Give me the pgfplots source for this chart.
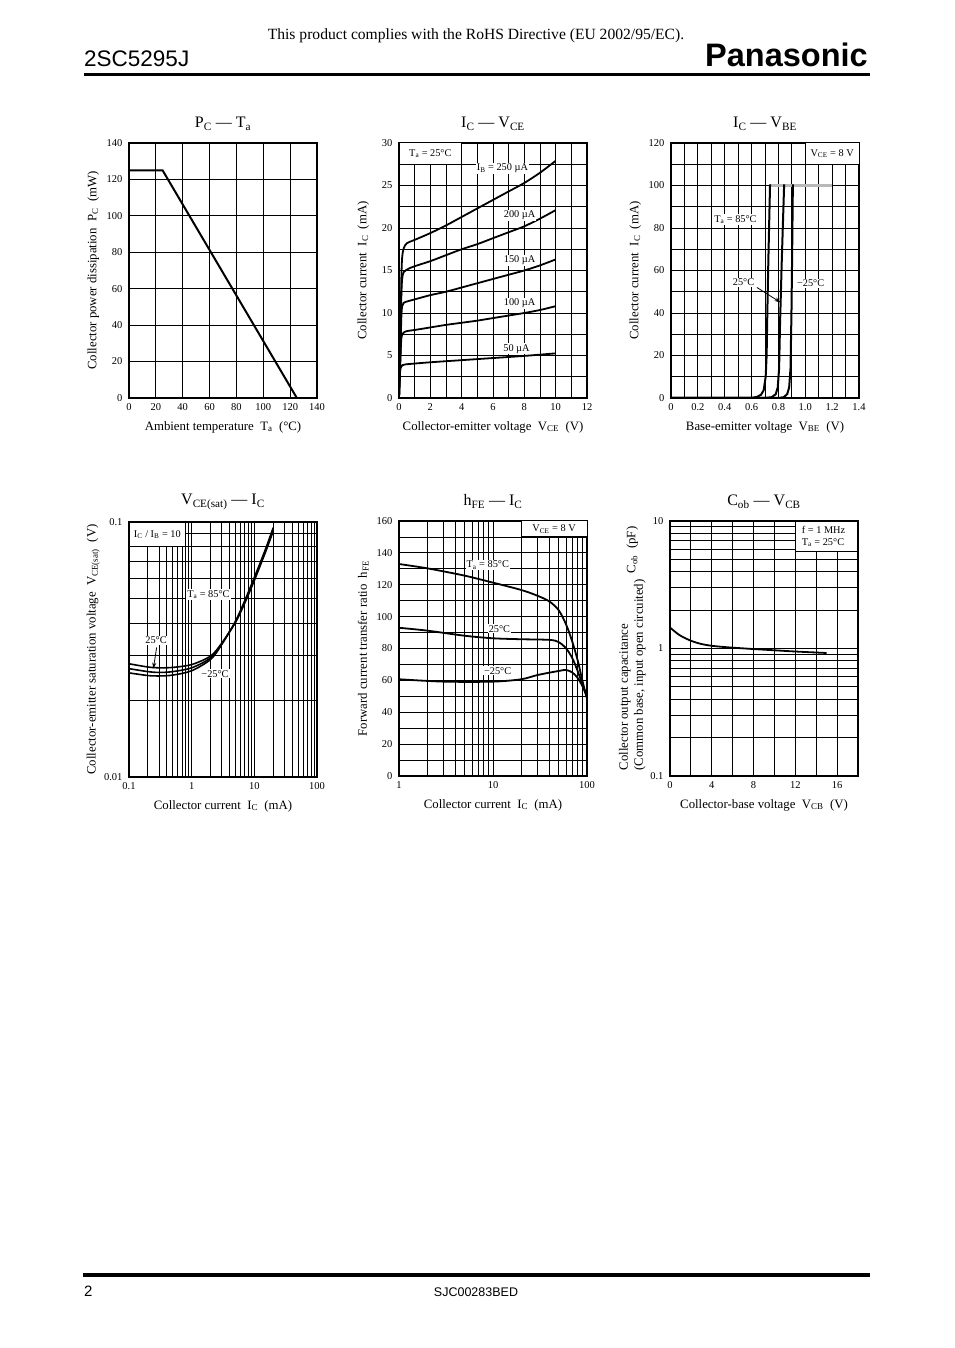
\documentclass[border=0pt]{standalone}
\usepackage{fontspec}
\setmainfont{Liberation Serif}
\newfontfamily\helv{Liberation Sans}
\usepackage{pgfplots}
\pgfplotsset{compat=1.18}
\usetikzlibrary{arrows.meta}
\newcommand\tk{\fontsize{10.5}{11}\selectfont}
\newcommand\lb{\fontsize{12.8}{15}\selectfont}
\newcommand\tl{\fontsize{16}{18}\selectfont}
\newcommand\sm{\fontsize{10.3}{12}\selectfont}
\newcommand\sub[1]{\textsubscript{#1}}
\tikzset{lbl/.style={fill=white,inner sep=1pt,font=\sm}}
\pgfplotsset{
 ds/.style={scale only axis, width=188pt, height=255pt, anchor=north west,
  axis line style={line width=1.2pt},
  grid=both,
  major grid style={line width=0.8pt,black},
  minor grid style={line width=0.8pt,black},
  major tick length=0pt, minor tick length=0pt,
  tick label style={font=\tk},
  xticklabel style={yshift=-2pt},
  yticklabel style={xshift=-3pt},
  label style={font=\lb},
  title style={font=\tl, yshift=3pt},
  xlabel style={at={(axis description cs:0.5,-0.114)},anchor=center},
  ylabel style={at={(axis description cs:-0.19,0.5)},anchor=center},
  cycle list={{black,mark=none}},
  every axis plot/.append style={line width=1.8pt,black,mark=none},
 }
}
\begin{document}
\begin{tikzpicture}
\begin{scope}[x=1pt,y=1pt]
\fill[white] (0,0) rectangle (954,1348);
\path[use as bounding box] (0,0) rectangle (954,1348);
\node[anchor=base, inner sep=0, font=\fontsize{15.6}{17}\selectfont] at (476,1308) {This product complies with the RoHS Directive (EU 2002/95/EC).};
\node[anchor=base west, inner sep=0, font=\helv\fontsize{22.5}{24}\selectfont] at (84,1281) {2SC5295J};
\node[anchor=base east, inner sep=0, font=\helv\bfseries\fontsize{32.5}{34}\selectfont] at (868,1281) {Panasonic};
\draw[line width=3pt] (84,1273) -- (870,1273);
\draw[line width=3.5pt] (83,73) -- (870,73);
\node[anchor=base west, inner sep=0, font=\helv\fontsize{15}{17}\selectfont] at (84,51) {2};
\node[anchor=base, inner sep=0, font=\helv\fontsize{12.5}{14}\selectfont] at (476,51) {SJC00283BED};
\end{scope}

% ---------- PC - Ta
\begin{axis}[ds, at={(129pt,1205pt)}, xmin=0,xmax=140,ymin=0,ymax=140,
 xtick={0,20,40,60,80,100,120,140}, xticklabels={0,20,40,60,80,100,120,140},
 ytick={0,20,40,60,80,100,120,140}, yticklabels={0,20,40,60,80,100,120,140},
 title={P\sub{C} — T\sub{a}},
 xlabel={Ambient temperature\ \ T\sub{a}\ \ (°C)},
 ylabel={Collector power dissipation\ \ P\sub{C}\ \ (mW)}]
\addplot[line width=2pt] coordinates {(0,125)(25,125)(125,0)};
\end{axis}

% ---------- IC - VCE
\begin{axis}[ds, at={(399pt,1205pt)}, xmin=0,xmax=12,ymin=0,ymax=30,
 xtick={0,2,4,6,8,10,12}, xticklabels={0,2,4,6,8,10,12}, minor xtick={1,3,5,7,9,11},
 ytick={0,5,10,15,20,25,30}, yticklabels={0,5,10,15,20,25,30}, minor ytick={2.5,7.5,12.5,17.5,22.5,27.5},
 title={I\sub{C} — V\sub{CE}},
 xlabel={Collector-emitter voltage\ \ V\sub{CE}\ \ (V)},
 ylabel={Collector current\ \ I\sub{C}\ \ (mA)}]
\addplot[smooth,tension=0.5] coordinates {(0,0)(0.1,8)(0.15,14)(0.2,16.5)(0.3,17.6)(0.5,18.2)(1,18.6)(2,19.4)(3,20.3)(4,21.3)(5,22.3)(6,23.3)(7,24.3)(8,25.3)(9,26.5)(10,27.9)};
\addplot[smooth,tension=0.5] coordinates {(0,0)(0.1,7)(0.15,12)(0.2,14)(0.3,14.8)(0.6,15.2)(1,15.5)(2,16.1)(3,16.8)(4,17.5)(5,18.1)(6,18.8)(7,19.5)(8,20.2)(9,21.1)(10,22.1)};
\addplot[smooth,tension=0.5] coordinates {(0,0)(0.1,6)(0.15,9.5)(0.2,10.8)(0.3,11.2)(0.6,11.4)(1,11.6)(2,12.1)(3,12.5)(4,13.0)(5,13.5)(6,14.0)(7,14.5)(8,15.0)(9,15.6)(10,16.3)};
\addplot[smooth,tension=0.5] coordinates {(0,0)(0.08,4)(0.15,7)(0.3,7.7)(0.6,7.9)(1,8.0)(2,8.3)(3,8.6)(4,8.85)(5,9.1)(6,9.4)(7,9.7)(8,10.0)(9,10.35)(10,10.8)};
\addplot[smooth,tension=0.5] coordinates {(0,0)(0.05,2.5)(0.1,3.5)(0.2,3.85)(0.4,3.95)(1,4.05)(2,4.2)(4,4.45)(6,4.7)(8,4.95)(10,5.25)};
\draw[fill=white,line width=1pt] (axis cs:0,27.5) rectangle (axis cs:4,30);
\node[font=\sm] at (axis cs:2,28.75) {T\sub{a} = 25°C};
\node[lbl] at (axis cs:6.6,27.0) {I\sub{B} = 250 µA};
\node[lbl] at (axis cs:7.7,21.5) {200 µA};
\node[lbl] at (axis cs:7.7,16.2) {150 µA};
\node[lbl] at (axis cs:7.7,11.1) {100 µA};
\node[lbl] at (axis cs:7.5,5.8) {50 µA};
\end{axis}

% ---------- IC - VBE
\begin{axis}[ds, at={(671pt,1205pt)}, xmin=0,xmax=1.4,ymin=0,ymax=120,
 xtick={0,0.2,0.4,0.6,0.8,1.0,1.2,1.4}, xticklabels={0,0.2,0.4,0.6,0.8,1.0,1.2,1.4},
 minor xtick={0.1,0.3,0.5,0.7,0.9,1.1,1.3},
 ytick={0,20,40,60,80,100,120}, yticklabels={0,20,40,60,80,100,120}, minor ytick={10,30,50,70,90,110},
 title={I\sub{C} — V\sub{BE}},
 xlabel={Base-emitter voltage\ \ V\sub{BE}\ \ (V)},
 ylabel={Collector current\ \ I\sub{C}\ \ (mA)}]
\addplot[gray!55,line width=2.2pt] coordinates {(0.7375,100)(1.2,100)};
\addplot[line width=2pt] coordinates {(0,0)(0.60,0)(0.64,0.5)(0.67,1.5)(0.69,3.6)(0.705,10)(0.712,20)(0.7175,41)(0.725,65)(0.7375,100.5)};
\addplot[line width=2pt] coordinates {(0,0)(0.70,0)(0.75,0.4)(0.78,1.8)(0.795,5)(0.805,14)(0.812,35)(0.825,65)(0.8425,100.5)};
\addplot[line width=2pt] coordinates {(0,0)(0.80,0)(0.84,0.4)(0.865,1.8)(0.88,5)(0.89,14)(0.897,40)(0.9025,70)(0.9075,100.5)};
\draw[fill=white,line width=1pt] (axis cs:1.0,110) rectangle (axis cs:1.4,120);
\node[font=\sm] at (axis cs:1.2,115) {V\sub{CE} = 8 V};
\node[lbl] at (axis cs:0.48,84) {T\sub{a} = 85°C};
\node[lbl] at (axis cs:0.54,54.4) {25°C};
\node[lbl] at (axis cs:1.04,54) {−25°C};
\draw[line width=0.8pt,-{Stealth[length=6pt,width=4pt]}] (axis cs:0.64,52) -- (axis cs:0.815,45);
\end{axis}

% ---------- VCE(sat) - IC
\begin{axis}[ds, at={(129pt,826pt)}, xmode=log, ymode=log, xmin=0.1,xmax=100,ymin=0.01,ymax=0.1,
 xtick={0.1,1,10,100}, xticklabels={0.1,1,10,100},
 minor xtick={0.2,0.3,0.4,0.5,0.6,0.7,0.8,0.9,2,3,4,5,6,7,8,9,20,30,40,50,60,70,80,90},
 ytick={0.01,0.1}, yticklabels={0.01,0.1},
 minor ytick={0.02,0.03,0.04,0.05,0.06,0.07,0.08,0.09},
 title={V\sub{CE(sat)} — I\sub{C}},
 xlabel={Collector current\ \ I\sub{C}\ \ (mA)},
 ylabel={Collector-emitter saturation voltage\ \ V\sub{CE(sat)}\ \ (V)}]
\addplot[smooth,line width=1.6pt] coordinates {(0.1,0.0278)(0.2,0.0270)(0.3,0.0268)(0.5,0.0269)(1,0.0276)(2,0.0298)(3,0.0334)(5,0.0404)(7,0.048)(10,0.0590)(15,0.0760)(20,0.092)};
\addplot[smooth,line width=1.6pt] coordinates {(0.1,0.0266)(0.2,0.0259)(0.3,0.0257)(0.5,0.0259)(1,0.0268)(2,0.0293)(3,0.0332)(5,0.0406)(7,0.0485)(10,0.0598)(15,0.0770)(20,0.0935)};
\addplot[smooth,line width=1.6pt] coordinates {(0.1,0.0256)(0.2,0.0250)(0.3,0.0249)(0.5,0.0251)(1,0.0261)(2,0.0289)(3,0.0330)(5,0.0408)(7,0.049)(10,0.0606)(15,0.078)(20,0.095)};
\draw[fill=white,line width=1.2pt] (axis cs:0.1,0.08) rectangle (axis cs:0.8,0.1);
\node[font=\sm] at (axis cs:0.283,0.0894) {I\sub{C} / I\sub{B} = 10};
\node[lbl] at (axis cs:1.85,0.052) {T\sub{a} = 85°C};
\node[lbl] at (axis cs:0.27,0.0343) {25°C};
\node[lbl] at (axis cs:2.36,0.0254) {−25°C};
\draw[line width=0.8pt,-{Stealth[length=6pt,width=4pt]}] (axis cs:0.276,0.0322) -- (axis cs:0.245,0.0266);
\end{axis}

% ---------- hFE - IC
\begin{axis}[ds, at={(399pt,827pt)}, xmode=log, xmin=1,xmax=100,ymin=0,ymax=160,
 xtick={1,10,100}, xticklabels={1,10,100},
 minor xtick={2,3,4,5,6,7,8,9,20,30,40,50,60,70,80,90},
 ytick={0,20,40,60,80,100,120,140,160}, yticklabels={0,20,40,60,80,100,120,140,160},
 minor ytick={10,30,50,70,90,110,130,150},
 title={h\sub{FE} — I\sub{C}},
 xlabel={Collector current\ \ I\sub{C}\ \ (mA)},
 ylabel={Forward current transfer ratio\ \ h\sub{FE}}]
\addplot[smooth] coordinates {(1,133)(2,130.3)(5,125.7)(10,121.3)(20,116.7)(30,113)(40,109.4)(50,104)(60,95)(70,84)(80,72)(90,59)(100,48.5)};
\addplot[smooth] coordinates {(1,93)(2,91.2)(5,88)(10,86.4)(20,85.8)(40,85.4)(50,84)(60,80)(70,73.8)(80,65.5)(90,57)(100,49.8)};
\addplot[smooth] coordinates {(1,60.7)(3,59.2)(10,59.2)(20,60.7)(30,63.4)(50,65.9)(60,66.5)(70,64.9)(80,61.3)(90,56)(100,49.8)};
\draw[fill=white,line width=1pt] (axis cs:20,150) rectangle (axis cs:100,160);
\node[font=\sm] at (axis cs:44.7,155) {V\sub{CE} = 8 V};
\node[lbl] at (axis cs:8.8,132.4) {T\sub{a} = 85°C};
\node[lbl] at (axis cs:11.7,92.3) {25°C};
\node[lbl] at (axis cs:11.2,65.9) {−25°C};
\end{axis}

% ---------- Cob - VCB
\begin{axis}[ds, at={(670pt,827pt)}, xmin=0,xmax=18, ymode=log, ymin=0.1,ymax=10,
 xtick={0,4,8,12,16}, xticklabels={0,4,8,12,16}, minor xtick={2,6,10,14,18},
 ytick={0.1,1,10}, yticklabels={0.1,1,10},
 minor ytick={0.2,0.3,0.4,0.5,0.6,0.7,0.8,0.9,2,3,4,5,6,7,8,9},
 title={C\sub{ob} — V\sub{CB}},
 xlabel={Collector-base voltage\ \ V\sub{CB}\ \ (V)},
 ylabel={\begin{tabular}{@{}l@{}}Collector output capacitance\\(Common base, input open circuited)\end{tabular}\ \ C\sub{ob}\ \ (pF)},
 ylabel style={at={(axis description cs:-0.2,0.5)}}]
\addplot[smooth] coordinates {(0,1.46)(0.5,1.35)(1,1.26)(2,1.15)(3,1.085)(4,1.05)(5,1.03)(6,1.015)(8,0.99)(10,0.968)(12,0.947)(14,0.93)(15,0.922)};
\draw[fill=white,line width=1.2pt] (axis cs:12,5.8) rectangle (axis cs:18,10);
\node[font=\sm,align=left] at (axis cs:14.7,7.6) {f = 1 MHz\\T\sub{a} = 25°C};
\end{axis}
\end{tikzpicture}
\end{document}
